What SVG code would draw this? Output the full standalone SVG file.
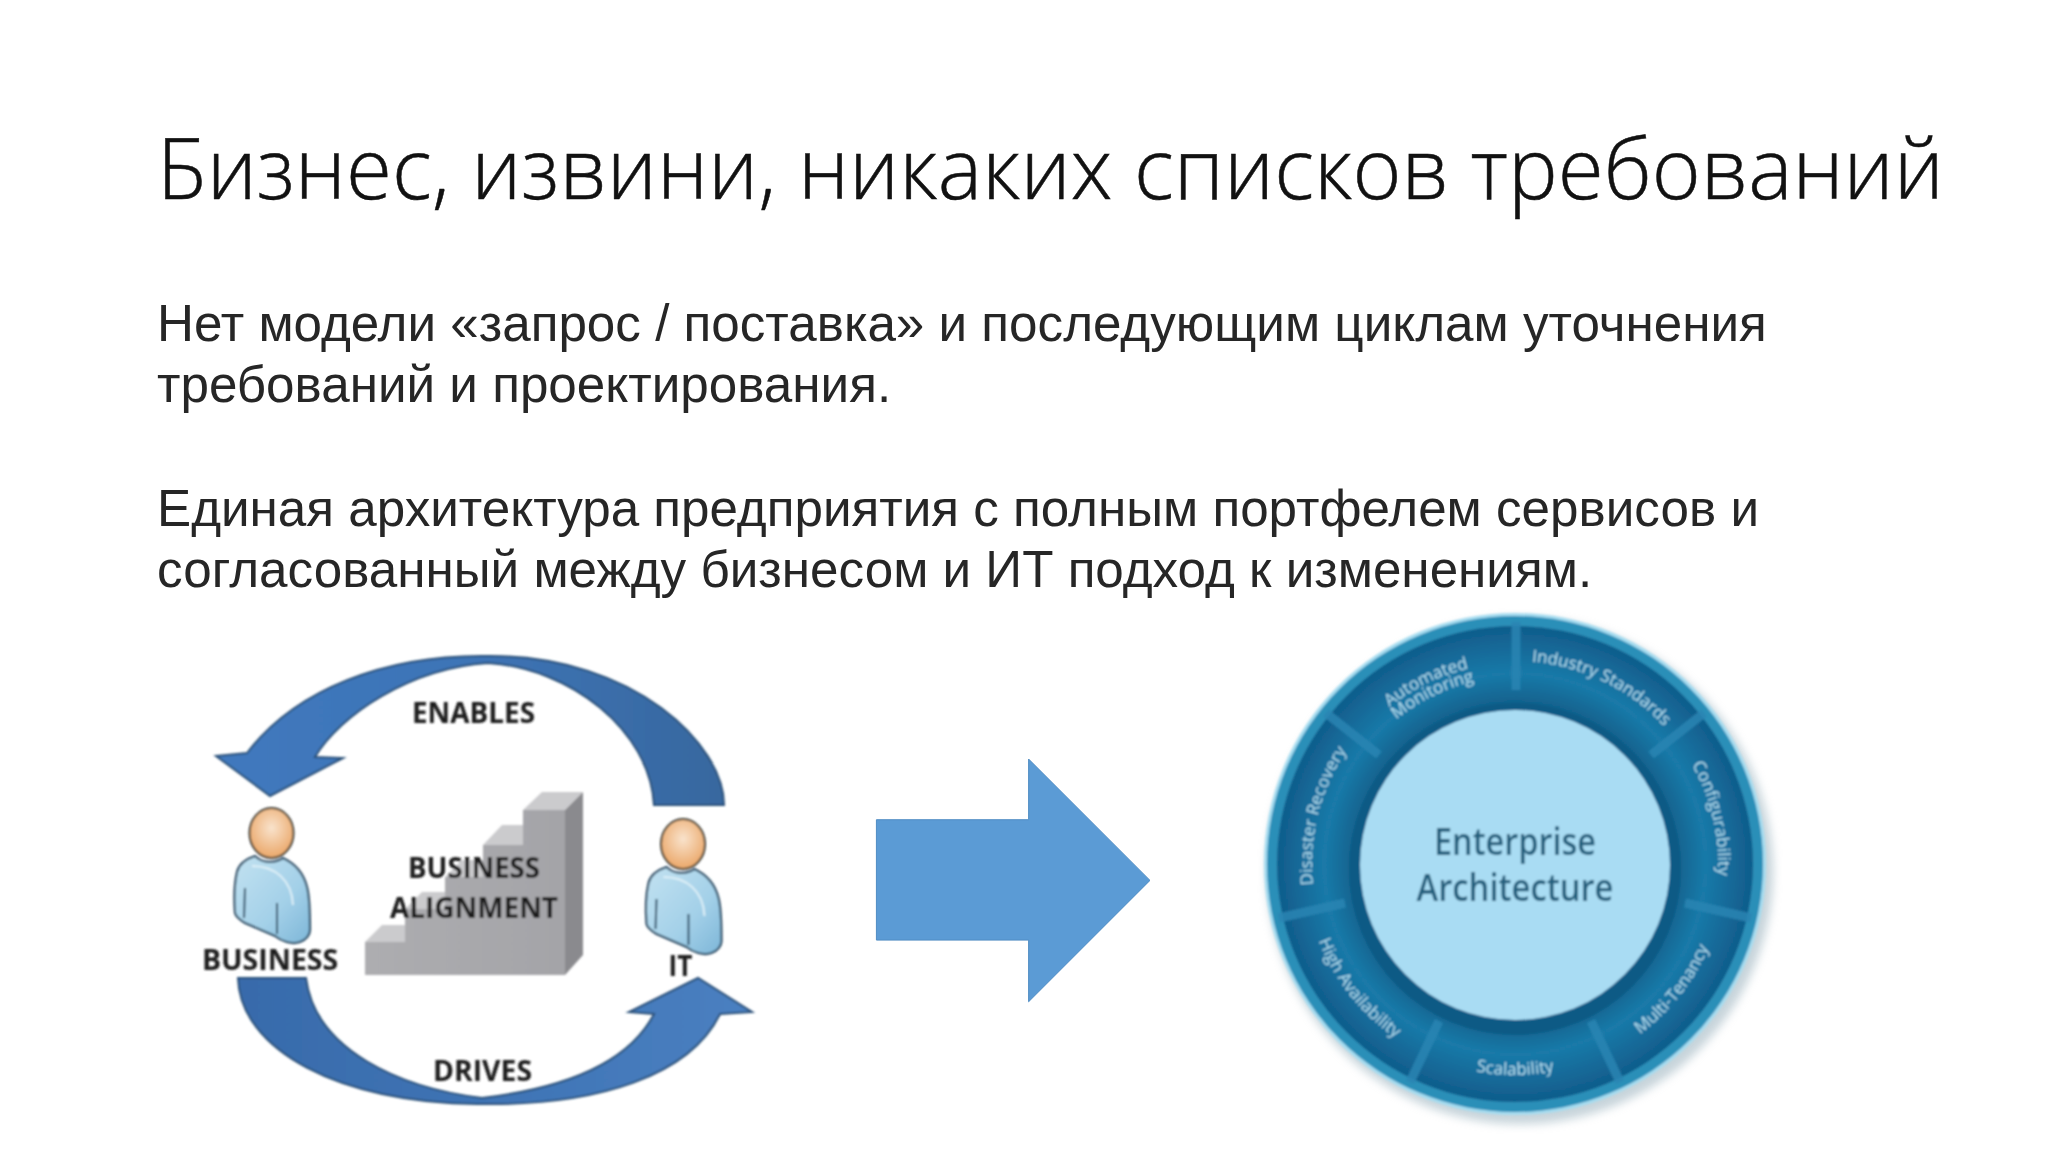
<svg xmlns="http://www.w3.org/2000/svg" xmlns:xlink="http://www.w3.org/1999/xlink" width="2048" height="1152" viewBox="0 0 2048 1152">
<style>
.title{font-family:"Open Sans","Noto Sans",sans-serif;font-weight:300;font-size:84px;fill:#111;stroke:#111;stroke-width:.5}
.body{font-family:"Liberation Sans",Arial,sans-serif;font-size:51.2px;fill:#262626}
.lab{font-family:"Open Sans","Noto Sans",sans-serif;font-weight:700;font-size:29px;fill:#1c1c1c}
.ea{font-family:"Open Sans","Noto Sans",sans-serif;font-weight:600;font-size:38px;fill:#245f7d}
.seg{font-family:"Open Sans","Noto Sans",sans-serif;font-size:17px;fill:#b5dff0;text-anchor:middle}
.sep{stroke:#2a85b3;stroke-width:9;fill:none;opacity:.85}
.crease{stroke:#2f4f68;stroke-width:2;fill:none}
.stepfront{fill:url(#stepGrad)}.steptop{fill:#cbcbcd}.stepside{fill:#8a8a8e}
</style>
<defs>
<filter id="soft" x="-5%" y="-5%" width="110%" height="110%"><feGaussianBlur stdDeviation="0.8"/></filter>
<filter id="softer" x="-20%" y="-20%" width="140%" height="140%"><feGaussianBlur stdDeviation="5"/></filter>
<linearGradient id="stepGrad" x1="0" y1="0" x2="1" y2="0"><stop offset="0" stop-color="#adadb0"/><stop offset="1" stop-color="#a4a4a8"/></linearGradient>
<linearGradient id="topArrow" x1="0" y1="0" x2="1" y2="0"><stop offset="0" stop-color="#4079be"/><stop offset="0.5" stop-color="#3d74b6"/><stop offset="1" stop-color="#38689f"/></linearGradient>
<linearGradient id="botArrow" x1="0" y1="0" x2="1" y2="0"><stop offset="0" stop-color="#386bab"/><stop offset="0.5" stop-color="#3f74b5"/><stop offset="1" stop-color="#4a80c1"/></linearGradient>
<linearGradient id="bodyFill" x1="0" y1="0" x2="1" y2="1"><stop offset="0" stop-color="#c2e2f1"/><stop offset="0.6" stop-color="#a3d0e8"/><stop offset="1" stop-color="#7db6d8"/></linearGradient>
<radialGradient id="headFill" cx="0.5" cy="0.4" r="0.6"><stop offset="0" stop-color="#f9e3cc"/><stop offset="1" stop-color="#eba769"/></radialGradient>
<radialGradient id="band" cx="0.5" cy="0.5" r="0.5"><stop offset="0.65" stop-color="#0f5c87"/><stop offset="0.8" stop-color="#1a7aa9"/><stop offset="1" stop-color="#105c8b"/></radialGradient>
<g id="person">
<path d="M255 856C246 859 239 863 237 872C234 885 234 900 235 913C236 917 240 920 245 923L275 936C281 941 292 945 300 942C306 940 310 935 310 930C310 915 310 898 307 887C304 875 296 864 283 858C274 864 262 863 255 856Z" fill="url(#bodyFill)" stroke="#2f4f68" stroke-width="2.2"/>
<path d="M252 866C275 866 292 880 293 905" stroke="#dff0f8" stroke-width="2" fill="none"/>
<path class="crease" d="M245 888L244 918M277 903V934"/>
<ellipse cx="271.5" cy="833" rx="22" ry="25" fill="url(#headFill)" stroke="#3a3a30" stroke-width="2"/>
</g>
<path id="p1" d="M7.1 -202.9A203 203 0 0 1 155.5 -130.5"/>
<path id="p2" d="M162.1 -122.2A203 203 0 0 1 199.3 38.7"/>
<path id="p3" d="M95.8 188A211 211 0 0 0 204.7 51"/>
<path id="p4" d="M-89.2 191.2A211 211 0 0 0 89.2 191.2"/>
<path id="p5" d="M-204.7 51A211 211 0 0 0 -95.8 188"/>
<path id="p6" d="M-199.3 38.7A203 203 0 0 1 -157.8 -127.8"/>
<path id="p7" d="M-151.7 -131.9A201 201 0 0 1 -10.5 -200.7"/>
<path id="p8" d="M-141.2 -122.7A187 187 0 0 1 -9.8 -186.7"/>
</defs>
<rect width="2048" height="1152" fill="#fff"/>
<text class="title" x="157" y="199" textLength="1787" lengthAdjust="spacingAndGlyphs">Бизнес, извини, никаких списков требований</text>
<g id="body-text">
<text class="body" x="157" y="341">Нет модели «запрос / поставка» и последующим циклам уточнения</text>
<text class="body" x="157" y="402">требований и проектирования.</text>
<text class="body" x="157" y="526">Единая архитектура предприятия с полным портфелем сервисов и</text>
<text class="body" x="157" y="587">согласованный между бизнесом и ИТ подход к изменениям.</text>
</g>
<g id="connectors">
<path id="enables-arrow" filter="url(#soft)" d="M724 805C724 745 635 656 490 656C385 654 295 690 247 753L216 756L270 796L343 758L315 757C340 715 410 668 488 663C570 668 650 730 654 805Z" fill="url(#topArrow)" stroke="#2a5078" stroke-width="2"/>
<path id="drives-arrow" filter="url(#soft)" d="M238 978C240 1050 340 1103 477 1104C600 1106 690 1075 720 1014L752 1012L698 978L629 1012L654 1014C625 1070 550 1090 482 1098C400 1088 315 1050 306 978Z" fill="url(#botArrow)" stroke="#2a5078" stroke-width="2"/>
<path id="big-arrow" transform="scale(.9948)" d="M881 824H1034V763L1156 885L1034 1007V945H881Z" fill="#5b9bd5" stroke="#4f8cc4" stroke-width="1"/>
</g>
<g id="business" filter="url(#soft)">
<use href="#person"/>
<text class="lab" transform="scale(.9948)" x="203" y="975" textLength="137" lengthAdjust="spacingAndGlyphs">BUSINESS</text>
</g>
<g id="it" filter="url(#soft)">
<use href="#person" transform="translate(411.5 11)"/>
<text class="lab" transform="scale(.9948)" x="672" y="981" textLength="24" lengthAdjust="spacingAndGlyphs">IT</text>
</g>
<g id="business-alignment" filter="url(#soft)">
<path class="steptop" d="M365 942L382 925H405V942ZM405 909L422 892H445V909ZM445 877L462 860H483V877ZM483 845L502 825H523V845ZM523 810L542 792H583L565 810Z"/>
<path class="stepfront" d="M365 975V942H405V909H445V877H483V845H523V810H565V975Z"/>
<path class="stepside" d="M565 810L583 792V955L565 975Z"/>
<text class="lab" x="408" y="878" textLength="132" lengthAdjust="spacingAndGlyphs">BUSINESS</text>
<text class="lab" x="390" y="918" textLength="168" lengthAdjust="spacingAndGlyphs">ALIGNMENT</text>
</g>
<g id="enables-label" filter="url(#soft)"><text class="lab" x="412" y="723" textLength="123" lengthAdjust="spacingAndGlyphs">ENABLES</text></g>
<g id="drives-label" filter="url(#soft)"><text class="lab" x="433" y="1081" textLength="99" lengthAdjust="spacingAndGlyphs">DRIVES</text></g>
<g id="enterprise-architecture" transform="translate(1515 864)">
<circle cx="5" cy="7" r="253" fill="#8fa9b6" opacity="0.5" filter="url(#softer)"/>
<g filter="url(#soft)">
<circle r="251" fill="#a5dcf0"/>
<circle r="248" fill="#2a8fb8"/>
<circle r="238" fill="url(#band)"/>
<path class="sep" d="M1 -242V-174M189 -151L136 -109M236 54L170 39M105 218L76 157M-105 218L-76 157M-236 54L-170 39M-189 -151L-136 -109"/>
<circle cy="5" r="166" fill="#0e5a85"/>
<circle cy="1" r="155" fill="#a9dcf3"/>
<text class="ea" text-anchor="middle" x="0" y="-9" textLength="162" lengthAdjust="spacingAndGlyphs">Enterprise</text>
<text class="ea" text-anchor="middle" x="0" y="37" textLength="197" lengthAdjust="spacingAndGlyphs">Architecture</text>
<text class="seg"><textPath href="#p1" xlink:href="#p1" startOffset="50%">Industry Standards</textPath></text>
<text class="seg"><textPath href="#p2" xlink:href="#p2" startOffset="50%">Configurability</textPath></text>
<text class="seg"><textPath href="#p3" xlink:href="#p3" startOffset="50%">Multi-Tenancy</textPath></text>
<text class="seg"><textPath href="#p4" xlink:href="#p4" startOffset="50%">Scalability</textPath></text>
<text class="seg"><textPath href="#p5" xlink:href="#p5" startOffset="50%">High Availability</textPath></text>
<text class="seg"><textPath href="#p6" xlink:href="#p6" startOffset="50%">Disaster Recovery</textPath></text>
<text class="seg"><textPath href="#p7" xlink:href="#p7" startOffset="50%">Automated</textPath></text>
<text class="seg"><textPath href="#p8" xlink:href="#p8" startOffset="50%">Monitoring</textPath></text>
</g>
</g>
</svg>
